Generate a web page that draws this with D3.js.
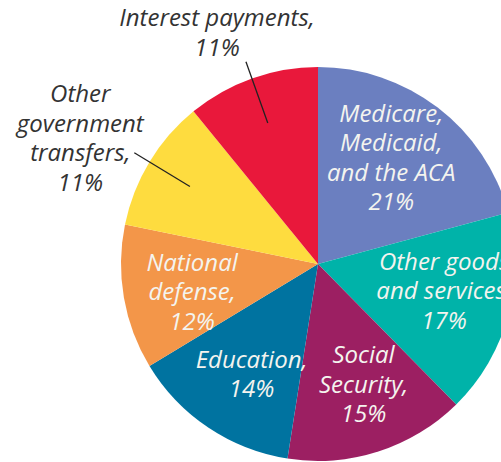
<!DOCTYPE html>
<html>
<head>
<meta charset="utf-8">
<script src="https://cdn.jsdelivr.net/npm/d3@7"></script>
<style>
  html, body { margin: 0; padding: 0; background: #fff; overflow: hidden; }
  #svg-container { width: 501px; height: 462px; }
  text { font-family: "Open Sans", sans-serif; font-style: italic; font-size: 24px; }
</style>
</head>
<body>
<div id="svg-container"></div>
<script>
// data
const categories = [
  "Medicare, Medicaid, and the ACA",
  "Other goods and services",
  "Social Security",
  "Education",
  "National defense",
  "Other government transfers",
  "Interest payments"
];
const shares = [21, 17, 15, 14, 12, 11, 11];
const labelLines = [
  ["Medicare,", "Medicaid,", "and the ACA", "21%"],
  ["Other goods", "and services,", "17%"],
  ["Social", "Security,", "15%"],
  ["Education,", "14%"],
  ["National", "defense,", "12%"],
  ["Other", "government", "transfers,", "11%"],
  ["Interest payments,", "11%"]
];
const colors = ["#6b7fc0", "#00b3a9", "#9c1f62", "#0073a0", "#f39649", "#fedc3f", "#e9183b"];

////////////////////////////  Init  ///////////////////////////////
const width = 501;
const height = 462;
const cx = 318;
const cy = 264;
const radius = 197;
const lineH = 29.5;

const svg = d3.select("#svg-container").append("svg")
  .attr("width", width)
  .attr("height", height);

const g = svg.append("g").attr("transform", `translate(${cx}, ${cy})`);

const pie = d3.pie().sort(null).value((d) => d.value);
const arc = d3.arc().innerRadius(0).outerRadius(radius);
const leadIn = d3.arc().innerRadius(radius * 0.76).outerRadius(radius * 0.76);
const leadOut = d3.arc().innerRadius(radius * 1.09).outerRadius(radius * 1.09);

// label spot: a bit before the slice middle, like the original
const labelPos = (d, r) => {
  const a = (d.startAngle + d.endAngle) / 2 - 0.05;
  return [r * Math.sin(a), -r * Math.cos(a)];
};

const data = categories.map((c, i) => ({ name: c, value: shares[i], lines: labelLines[i], color: colors[i] }));
const arcs = pie(data);

// slices
g.selectAll("path.slice")
  .data(arcs)
  .join("path")
  .attr("class", "slice")
  .attr("d", arc)
  .attr("fill", (d) => d.data.color);

// inside labels (first five slices)
const inside = arcs.slice(0, 5);
inside.forEach((d) => {
  const [x, y] = labelPos(d, radius * 0.655);
  const n = d.data.lines.length;
  const t = g.append("text")
    .attr("text-anchor", "middle")
    .attr("fill", "#f4f4ef");
  d.data.lines.forEach((line, k) => {
    t.append("tspan")
      .attr("x", x)
      .attr("y", y + 8 + (k - (n - 1) / 2) * lineH)
      .text(line);
  });
});

// outside labels with leader lines
const outside = arcs.slice(5);
outside.forEach((d, j) => {
  const p0 = leadIn.centroid(d);
  const p1 = leadOut.centroid(d);
  g.append("line")
    .attr("x1", p0[0]).attr("y1", p0[1])
    .attr("x2", p1[0]).attr("y2", p1[1])
    .attr("stroke", "#222")
    .attr("stroke-width", 1.3);

  const n = d.data.lines.length;
  const t = g.append("text")
    .attr("text-anchor", "middle")
    .attr("fill", "#333");
  // transfers label sits to the left, interest label sits above
  let tx, lastY;
  if (j === 0) {
    tx = p1[0] - 54;
    lastY = p1[1] + 38;
  } else {
    tx = p1[0] - 29;
    lastY = p1[1] - 6;
  }
  d.data.lines.forEach((line, k) => {
    t.append("tspan")
      .attr("x", tx)
      .attr("y", lastY - (n - 1 - k) * lineH)
      .text(line);
  });
});
</script>
</body>
</html>
